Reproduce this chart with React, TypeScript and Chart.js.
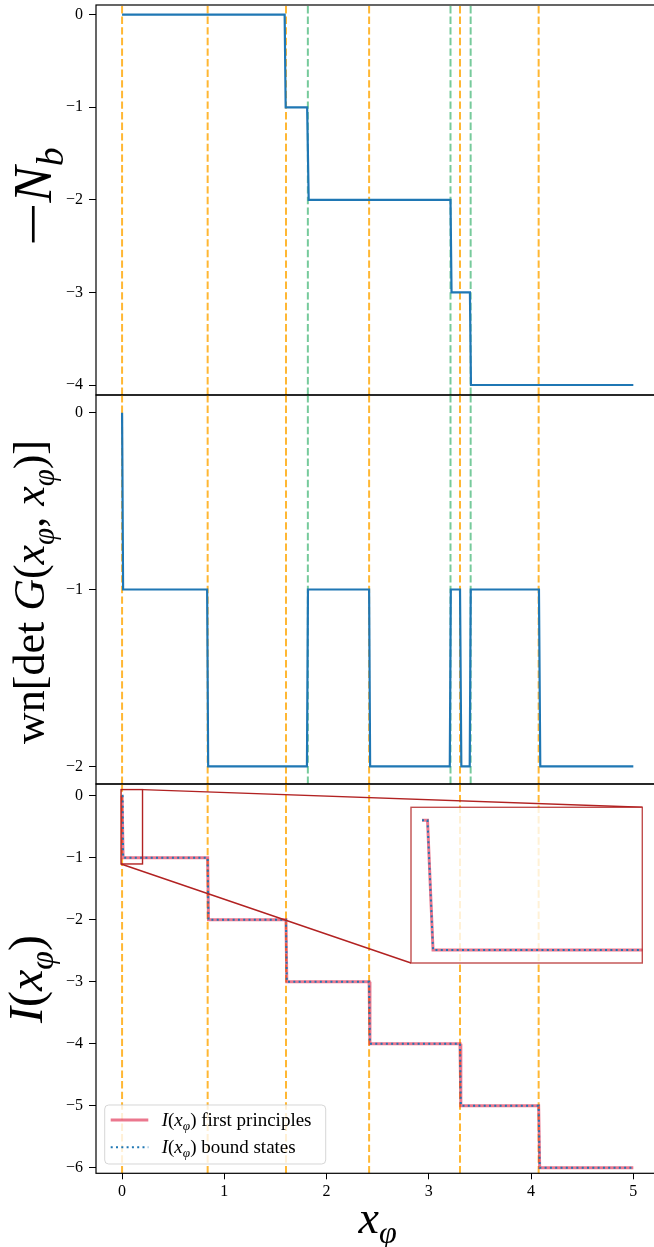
import React, { useEffect, useRef } from 'react';
import { Chart, registerables } from 'chart.js';

Chart.register(...registerables);

// ---------------- data ----------------
const X_TICKS = [0, 1, 2, 3, 4, 5];
const X_RANGE = [-0.255, 5.255];

// -N_b
const TOP_X = [0, 1.59, 1.6, 1.81, 1.825, 3.212, 3.222, 3.402, 3.412, 5.0];
const TOP_Y = [0, 0, -1, -1, -2, -2, -3, -3, -4, -4];
const TOP_TICKS = [0, -1, -2, -3, -4];
const TOP_RANGE = [-4.108, 0.105];

// wn[det G]
const MID_X = [0, 0.01, 0.832, 0.842, 1.808, 1.818, 2.416, 2.426, 3.205, 3.215, 3.305, 3.318, 3.4, 3.41, 4.077, 4.09, 5.0];
const MID_Y = [0, -1, -1, -2, -2, -1, -1, -2, -2, -1, -1, -2, -2, -1, -1, -2, -2];
const MID_TICKS = [0, -1, -2];
const MID_RANGE = [-2.1, 0.1];

// I(x_phi)
const BOT_X = [0, 0.005, 0.01, 0.837, 0.845, 1.603, 1.611, 2.416, 2.424, 3.305, 3.313, 4.074, 4.084, 5.0];
const FIRST_Y = [0, 0, -1, -1, -2, -2, -3, -3, -4, -4, -5, -5, -6, -6];
const BOUND_Y = [0, 0, -1, -1, -2, -2, -3, -3, -4, -4, -5, -5, -6, -6];
const BOT_TICKS = [0, -1, -2, -3, -4, -5, -6];
const BOT_RANGE = [-6.09, 0.19];

const INSET_X_RANGE = [-0.01, 0.2];
const INSET_Y_RANGE = [-1.1, 0.1];

const ORANGE_X = [0, 0.837, 1.603, 2.416, 3.305, 4.074];
const GREEN_X = [1.817, 3.212, 3.409];

// ---------------- layout / style ----------------
const W = 670;
const H = 1247;
const PLOT_LEFT = 96;
const PLOT_RIGHT = 659.4;
const PANELS = [
  { top: 5, bottom: 395 },
  { top: 395, bottom: 784 },
  { top: 784, bottom: 1173.3 },
];
const INSET_BOX = { left: 411, top: 807.3, right: 642.3, bottom: 963 };
const LEGEND_BOX = { x: 104.7, y: 1105, w: 221, h: 59 };

const FONT = '"Liberation Serif", "DejaVu Serif", serif';
const TICK_SIZE = 16;
const BLUE = '#1f77b4';
const ORANGE = 'rgba(255,165,0,0.8)';
const GREEN = 'rgba(60,179,113,0.7)';
const PINK = 'rgba(220,20,60,0.58)';
const RED = 'rgb(178,34,34)';

type Part = { t: string; it?: boolean; sub?: boolean; sx?: number };

const TOP_LABEL: Part[] = [{ t: '−', sx: 1.45 }, { t: 'N', it: true }, { t: 'b', it: true, sub: true }];
const MID_LABEL: Part[] = [
  { t: 'wn[det ' }, { t: 'G', it: true }, { t: '(' }, { t: 'x', it: true }, { t: 'φ', it: true, sub: true },
  { t: ', ' }, { t: 'x', it: true }, { t: 'φ', it: true, sub: true }, { t: ')]' },
];
const BOT_LABEL: Part[] = [{ t: 'I', it: true }, { t: '(' }, { t: 'x', it: true }, { t: 'φ', it: true, sub: true }, { t: ')' }];
const X_LABEL: Part[] = [{ t: 'x', it: true }, { t: 'φ', it: true, sub: true }];
const LEG_FIRST: Part[] = [{ t: 'I', it: true }, { t: '(' }, { t: 'x', it: true }, { t: 'φ', it: true, sub: true }, { t: ') first principles' }];
const LEG_BOUND: Part[] = [{ t: 'I', it: true }, { t: '(' }, { t: 'x', it: true }, { t: 'φ', it: true, sub: true }, { t: ') bound states' }];

// ---------------- helpers ----------------
function partFont(p: Part, size: number) {
  const s = p.sub ? size * 0.7 : size;
  return `${p.it ? 'italic ' : ''}${s}px ${FONT}`;
}
function partW(ctx: CanvasRenderingContext2D, p: Part, size: number) {
  ctx.font = partFont(p, size);
  return ctx.measureText(p.t).width * (p.sx || 1);
}
function partsWidth(ctx: CanvasRenderingContext2D, parts: Part[], size: number) {
  let w = 0;
  for (const p of parts) w += partW(ctx, p, size);
  return w;
}
function drawParts(ctx: CanvasRenderingContext2D, parts: Part[], x: number, y: number, size: number, align: 'center' | 'left') {
  ctx.save();
  ctx.textAlign = 'left';
  ctx.textBaseline = 'alphabetic';
  ctx.fillStyle = '#000';
  let cx = align === 'center' ? x - partsWidth(ctx, parts, size) / 2 : x;
  for (const p of parts) {
    const w = partW(ctx, p, size);
    ctx.font = partFont(p, size);
    const yy = y + (p.sub ? size * 0.22 : 0);
    if (p.sx && p.sx !== 1) {
      ctx.save();
      ctx.translate(cx, yy);
      ctx.scale(p.sx, 1);
      ctx.fillText(p.t, 0, 0);
      ctx.restore();
    } else {
      ctx.fillText(p.t, cx, yy);
    }
    cx += w;
  }
  ctx.restore();
}
function drawRotated(ctx: CanvasRenderingContext2D, parts: Part[], baseX: number, centerY: number, size: number) {
  ctx.save();
  ctx.translate(baseX, centerY);
  ctx.rotate(-Math.PI / 2);
  drawParts(ctx, parts, 0, 0, size, 'center');
  ctx.restore();
}
const fmt = (v: number) => (v < 0 ? '−' + String(Math.abs(v)) : String(v));
const pts = (xs: number[], ys: number[]) => xs.map((x, i) => ({ x, y: ys[i] }));

function vlineSets(xs: number[], color: string, yr: number[]) {
  return xs.map((x) => ({
    data: [{ x, y: yr[0] }, { x, y: yr[1] }],
    borderColor: color,
    borderWidth: 2,
    borderDash: [7.4, 3.2],
    pointRadius: 0,
    clip: 0,
    order: 5,
  }));
}

function xScale(display: boolean) {
  return {
    type: 'linear',
    min: X_RANGE[0],
    max: X_RANGE[1],
    display,
    afterBuildTicks: (s: any) => { s.ticks = X_TICKS.map((v) => ({ value: v })); },
    afterFit: (s: any) => { if (display) s.height = 40; s.paddingLeft = 0; s.paddingRight = 0; },
    ticks: { font: { family: FONT, size: TICK_SIZE }, color: '#000', padding: 3, maxRotation: 0, autoSkip: false, callback: (v: any) => fmt(Number(v)) },
    grid: { display: true, drawOnChartArea: false, drawTicks: true, tickLength: 6, color: '#000', lineWidth: 1 },
    border: { display: false },
  };
}
function yScale(range: number[], ticks: number[]) {
  return {
    type: 'linear',
    min: range[0],
    max: range[1],
    position: 'left',
    afterBuildTicks: (s: any) => { s.ticks = ticks.map((v) => ({ value: v })); },
    afterFit: (s: any) => { s.width = PLOT_LEFT; s.paddingTop = 0; s.paddingBottom = 0; },
    ticks: { font: { family: FONT, size: TICK_SIZE }, color: '#000', padding: 6, autoSkip: false, callback: (v: any) => fmt(Number(v)) },
    grid: { display: true, drawOnChartArea: false, drawTicks: true, tickLength: 7, color: '#000', lineWidth: 1 },
    border: { display: false },
  };
}

const framePlugin = {
  id: 'frame',
  afterDatasetsDraw(chart: any) {
    const { ctx, chartArea: a } = chart;
    ctx.save();
    ctx.strokeStyle = '#000';
    ctx.lineWidth = 1.2;
    ctx.strokeRect(a.left, a.top, a.right - a.left, a.bottom - a.top);
    ctx.restore();
  },
};

function titlePlugin(parts: Part[], baseX: number, centerY: number, size: number) {
  return {
    id: 'ytitle',
    afterDraw(chart: any) {
      drawRotated(chart.ctx, parts, baseX, centerY, size);
    },
  };
}

function baseOptions(panel: { top: number; bottom: number }, xAxisH: number) {
  return {
    animation: false,
    responsive: false,
    devicePixelRatio: 1,
    events: [],
    layout: {
      padding: { left: 0, right: W - PLOT_RIGHT, top: panel.top, bottom: H - panel.bottom - xAxisH },
    },
    plugins: { legend: { display: false }, tooltip: { enabled: false } },
  };
}

export default function App() {
  const topRef = useRef<HTMLCanvasElement>(null);
  const midRef = useRef<HTMLCanvasElement>(null);
  const botRef = useRef<HTMLCanvasElement>(null);
  const insetRef = useRef<HTMLCanvasElement>(null);

  useEffect(() => {
    document.body.style.margin = '0';
    const charts: Chart[] = [];

    // top panel
    charts.push(new Chart(topRef.current!, {
      type: 'line',
      data: {
        datasets: [
          { data: pts(TOP_X, TOP_Y), borderColor: BLUE, borderWidth: 2.2, pointRadius: 0, order: 0 } as any,
          ...vlineSets(ORANGE_X, ORANGE, TOP_RANGE),
          ...vlineSets(GREEN_X, GREEN, TOP_RANGE),
        ],
      },
      options: {
        ...baseOptions(PANELS[0], 0),
        scales: { x: xScale(false), y: yScale(TOP_RANGE, TOP_TICKS) },
      } as any,
      plugins: [framePlugin, titlePlugin(TOP_LABEL, 51, 197, 54)],
    }));

    // middle panel
    charts.push(new Chart(midRef.current!, {
      type: 'line',
      data: {
        datasets: [
          { data: pts(MID_X, MID_Y), borderColor: BLUE, borderWidth: 2.2, pointRadius: 0, order: 0 } as any,
          ...vlineSets(ORANGE_X, ORANGE, MID_RANGE),
          ...vlineSets(GREEN_X, GREEN, MID_RANGE),
        ],
      },
      options: {
        ...baseOptions(PANELS[1], 0),
        scales: { x: xScale(false), y: yScale(MID_RANGE, MID_TICKS) },
      } as any,
      plugins: [framePlugin, titlePlugin(MID_LABEL, 44, 592, 44)],
    }));

    // bottom panel
    const botExtras = {
      id: 'botExtras',
      afterDatasetsDraw(chart: any) {
        const { ctx } = chart;
        const xs = chart.scales.x;
        const ys = chart.scales.y;
        const x0 = xs.getPixelForValue(INSET_X_RANGE[0]);
        const x1 = xs.getPixelForValue(INSET_X_RANGE[1]);
        const y0 = ys.getPixelForValue(INSET_Y_RANGE[0]);
        const y1 = ys.getPixelForValue(INSET_Y_RANGE[1]);
        ctx.save();
        ctx.strokeStyle = RED;
        ctx.lineWidth = 1.4;
        ctx.strokeRect(x0, y1, x1 - x0, y0 - y1);
        ctx.beginPath();
        ctx.moveTo(x1, y1);
        ctx.lineTo(INSET_BOX.right, INSET_BOX.top);
        ctx.moveTo(x0, y0);
        ctx.lineTo(INSET_BOX.left, INSET_BOX.bottom);
        ctx.stroke();
        ctx.restore();
      },
      afterDraw(chart: any) {
        const { ctx } = chart;
        // x title
        drawParts(ctx, X_LABEL, (PLOT_LEFT + PLOT_RIGHT) / 2, 1233, 46, 'center');
        // legend
        const L = LEGEND_BOX;
        ctx.save();
        ctx.beginPath();
        (ctx as any).roundRect(L.x, L.y, L.w, L.h, 4);
        ctx.fillStyle = 'rgba(255,255,255,0.8)';
        ctx.fill();
        ctx.strokeStyle = 'rgba(204,204,204,0.8)';
        ctx.lineWidth = 1;
        ctx.stroke();
        const entries = [
          { ds: chart.data.datasets[1], parts: LEG_FIRST, y: 1120 },
          { ds: chart.data.datasets[0], parts: LEG_BOUND, y: 1147.3 },
        ];
        for (const e of entries) {
          ctx.beginPath();
          ctx.setLineDash(e.ds.borderDash || []);
          ctx.strokeStyle = e.ds.borderColor;
          ctx.lineWidth = e.ds.borderWidth;
          ctx.moveTo(110.7, e.y);
          ctx.lineTo(148.3, e.y);
          ctx.stroke();
          ctx.setLineDash([]);
          drawParts(ctx, e.parts, 161.7, e.y + 5.5, 19, 'left');
        }
        ctx.restore();
      },
    };

    charts.push(new Chart(botRef.current!, {
      type: 'line',
      data: {
        datasets: [
          { label: 'bound states', data: pts(BOT_X, BOUND_Y), borderColor: BLUE, borderWidth: 2, borderDash: [2, 3.3], pointRadius: 0, order: 0 } as any,
          { label: 'first principles', data: pts(BOT_X, FIRST_Y), borderColor: PINK, borderWidth: 3, pointRadius: 0, order: 1 } as any,
          ...vlineSets(ORANGE_X, ORANGE, BOT_RANGE),
        ],
      },
      options: {
        ...baseOptions(PANELS[2], 40),
        scales: { x: xScale(true), y: yScale(BOT_RANGE, BOT_TICKS) },
      } as any,
      plugins: [framePlugin, titlePlugin(BOT_LABEL, 42, 979, 48), botExtras],
    }));

    // inset
    const insetPlugin = {
      id: 'insetBg',
      beforeDatasetsDraw(chart: any) {
        const { ctx, chartArea: a } = chart;
        ctx.save();
        ctx.fillStyle = 'rgba(255,255,255,0.8)';
        ctx.fillRect(a.left, a.top, a.right - a.left, a.bottom - a.top);
        ctx.restore();
      },
      afterDatasetsDraw(chart: any) {
        const { ctx, chartArea: a } = chart;
        ctx.save();
        ctx.strokeStyle = 'rgba(178,34,34,0.8)';
        ctx.lineWidth = 1.4;
        ctx.strokeRect(a.left, a.top, a.right - a.left, a.bottom - a.top);
        ctx.restore();
      },
    };
    charts.push(new Chart(insetRef.current!, {
      type: 'line',
      data: {
        datasets: [
          { data: pts(BOT_X, BOUND_Y), borderColor: BLUE, borderWidth: 2, borderDash: [2, 3.3], pointRadius: 0, clip: 0, order: 0 } as any,
          { data: pts(BOT_X, FIRST_Y), borderColor: PINK, borderWidth: 3, pointRadius: 0, clip: 0, order: 1 } as any,
        ],
      },
      options: {
        animation: false,
        responsive: false,
        devicePixelRatio: 1,
        events: [],
        layout: { padding: { left: INSET_BOX.left, right: W - INSET_BOX.right, top: INSET_BOX.top, bottom: H - INSET_BOX.bottom } },
        plugins: { legend: { display: false }, tooltip: { enabled: false } },
        scales: {
          x: { type: 'linear', min: INSET_X_RANGE[0], max: INSET_X_RANGE[1], display: false },
          y: { type: 'linear', min: INSET_Y_RANGE[0], max: INSET_Y_RANGE[1], display: false },
        },
      } as any,
      plugins: [insetPlugin],
    }));

    return () => charts.forEach((c) => c.destroy());
  }, []);

  const cs: React.CSSProperties = { position: 'absolute', left: 0, top: 0, width: W, height: H };
  return (
    <div style={{ position: 'relative', width: 654, height: 1247, overflow: 'hidden', background: '#fff' }}>
      <canvas ref={topRef} width={W} height={H} style={cs} />
      <canvas ref={midRef} width={W} height={H} style={cs} />
      <canvas ref={botRef} width={W} height={H} style={cs} />
      <canvas ref={insetRef} width={W} height={H} style={cs} />
    </div>
  );
}
